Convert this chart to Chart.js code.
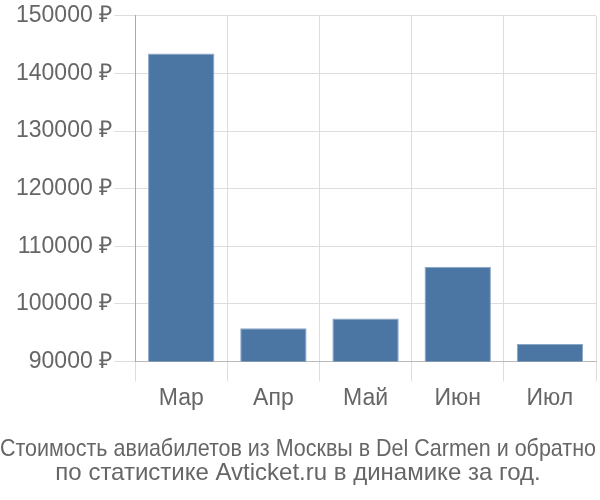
<!DOCTYPE html>
<html>
<head>
<meta charset="utf-8">
<script src="https://cdn.jsdelivr.net/npm/chart.js@4"></script>
<style>
  html, body { margin: 0; padding: 0; background: #fff; }
  #wrap { width: 600px; height: 500px; }
</style>
</head>
<body>
<div id="wrap"><canvas id="priceChart"></canvas></div>
<script>
// price by month
var months = ["Мар", "Апр", "Май", "Июн", "Июл"];
var prices = [143450, 95750, 97450, 106450, 93000];
var titleLines = ["Стоимость авиабилетов из Москвы в Del Carmen и обратно", "по статистике Avticket.ru в динамике за год."];

new Chart("priceChart", {
    type: 'bar',
    data: {
        labels: months,
        datasets: [
            {
                label: "Цена",
                data: prices,
                backgroundColor: "#4b76a4",
                borderColor: "#8aa6c6",
                borderWidth: 1
            }
        ]
    },
    options: {
        responsive: true,
        maintainAspectRatio: false,
        animation: false,
        layout: {
            padding: { top: -3, right: 4, left: 0, bottom: 15 }
        },
        plugins: {
            legend: { display: false },
            tooltip: { enabled: false },
            title: {
                display: true,
                position: 'bottom',
                text: titleLines,
                color: '#666',
                font: { family: "'Liberation Sans', Arial", size: 24, weight: 'normal', lineHeight: 1.0 },
                padding: { top: 22, bottom: 0 }
            }
        },
        scales: {
            x: {
                grid: {
                    offset: true,
                    color: '#dddddd',
                    tickLength: 20
                },
                border: { color: '#bbbbbb' },
                ticks: {
                    color: '#666',
                    font: { family: "'Liberation Sans', Arial", size: 23 },
                    padding: 3
                }
            },
            y: {
                min: 90000,
                max: 150000,
                // extra room on the left of the tick labels
                afterFit: function (scale) { scale.width += 14; },
                grid: {
                    color: '#dddddd',
                    tickLength: 21
                },
                border: { color: '#aaaaaa' },
                ticks: {
                    stepSize: 10000,
                    color: '#666',
                    padding: 2,
                    font: { family: "'Liberation Sans', Arial", size: 23 },
                    callback: function (v) { return v + " ₽"; }
                }
            }
        }
    }
});
</script>
</body>
</html>
